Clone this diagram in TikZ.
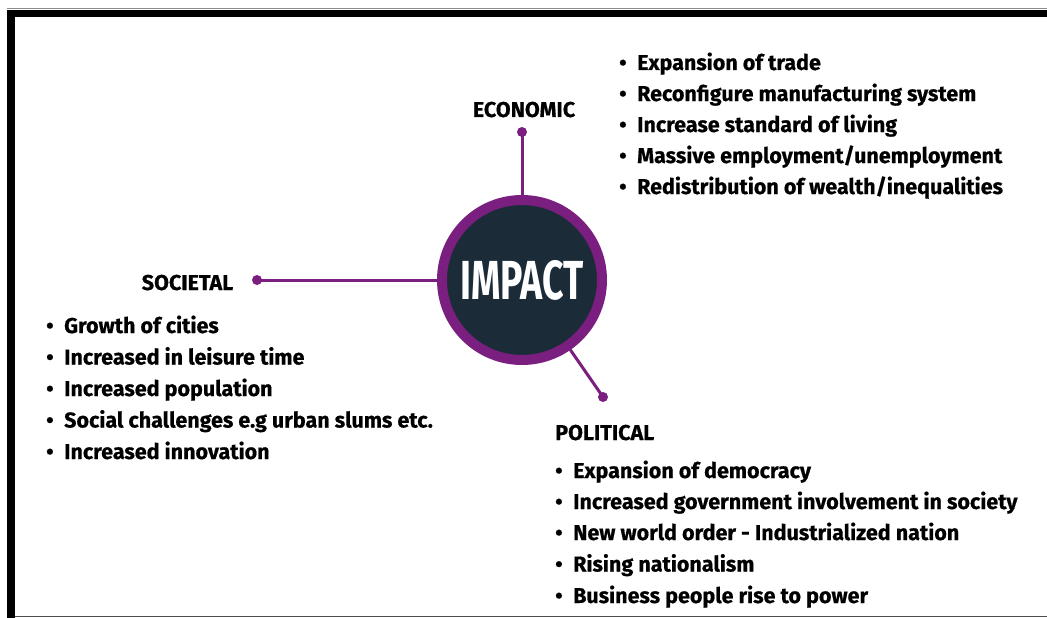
\documentclass[tikz,border=0pt]{standalone}
\usepackage{fontspec}
\setmainfont{Fira Sans}[FakeStretch=1.0,FakeBold=0.6]
\newfontfamily\hubfont{Fira Sans}[FakeStretch=0.68]
\usepackage{xcolor}
\definecolor{ImpactPurple}{HTML}{7A1E80}
\definecolor{ImpactNavy}{HTML}{1C2B38}
\pgfdeclarelayer{edgelayer}
\pgfdeclarelayer{nodelayer}
\pgfsetlayers{edgelayer,nodelayer,main}
\tikzstyle{none}=[inner sep=0pt]
\tikzstyle{hub}=[circle,fill=ImpactNavy,draw=ImpactPurple,line width=10pt,minimum size=160pt,inner sep=0pt,text=white,font=\hubfont\bfseries\fontsize{55}{55}\selectfont]
\tikzstyle{dot}=[circle,fill=ImpactPurple,minimum size=10pt,inner sep=0pt]
\tikzstyle{head}=[inner sep=0pt,anchor=base,font=\bfseries\fontsize{21.5}{24}\selectfont]
\tikzstyle{item}=[inner sep=0pt,anchor=base west,font=\bfseries\fontsize{21.5}{24}\selectfont]
\tikzstyle{simple}=[-,draw=ImpactPurple,line width=3pt]
\newcommand{\itm}[1]{\makebox[18pt][l]{\textbullet}#1}

\begin{document}
\begin{tikzpicture}[x=1pt,y=-1pt]
	\useasboundingbox (0,0) rectangle (1047,618);
	% frame
	\fill [black!45] (7,8.5) rectangle (1047,9.5);
	\fill [black] (7,10) rectangle (1047,17);
	\fill [black] (7,10) rectangle (15,618);
	\fill [black!70] (15,615.5) rectangle (1047,617);
	\begin{pgfonlayer}{nodelayer}
		\node [style=hub] (0) at (522, 280) {IMPACT};
		\node [style=dot] (1) at (522, 132) {};
		\node [style=dot] (2) at (257, 280) {};
		\node [style=dot] (3) at (603, 397) {};
		\node [style=head] (4) at (524, 117) {ECONOMIC};
		\node [style=head] (5) at (187.5, 290) {SOCIETAL};
		\node [style=head, anchor=base west] (6) at (555, 440) {POLITICAL};
		\node [style=item] (7) at (619, 70) {\itm{Expansion of trade}};
		\node [style=item] (8) at (619, 101) {\itm{Reconfigure manufacturing system}};
		\node [style=item] (9) at (619, 132) {\itm{Increase standard of living}};
		\node [style=item] (10) at (619, 163) {\itm{Massive employment/unemployment}};
		\node [style=item] (11) at (619, 194) {\itm{Redistribution of wealth/inequalities}};
		\node [style=item] (12) at (46, 333) {\itm{Growth of cities}};
		\node [style=item] (13) at (46, 364.5) {\itm{Increased in leisure time}};
		\node [style=item] (14) at (46, 396) {\itm{Increased population}};
		\node [style=item] (15) at (46, 427.5) {\itm{Social challenges e.g urban slums etc.}};
		\node [style=item] (16) at (46, 459) {\itm{Increased innovation}};
		\node [style=item] (17) at (555, 478) {\itm{Expansion of democracy}};
		\node [style=item] (18) at (555, 509) {\itm{Increased government involvement in society}};
		\node [style=item] (19) at (555, 540) {\itm{New world order - Industrialized nation}};
		\node [style=item] (20) at (555, 571.5) {\itm{Rising nationalism}};
		\node [style=item] (21) at (555, 603) {\itm{Business people rise to power}};
	\end{pgfonlayer}
	\begin{pgfonlayer}{edgelayer}
		\draw [style=simple] (1.center) to (0);
		\draw [style=simple] (2.center) to (0);
		\draw [style=simple] (3.center) to (0);
	\end{pgfonlayer}
\end{tikzpicture}
\end{document}
